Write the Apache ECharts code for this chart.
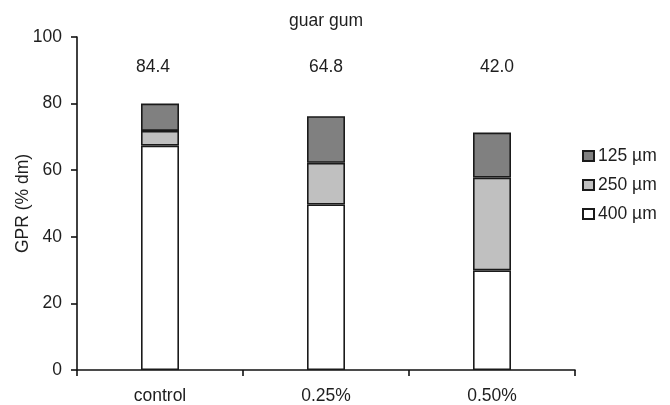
<!DOCTYPE html>
<html>
<head>
<meta charset="utf-8">
<script src="https://cdn.jsdelivr.net/npm/echarts@6/dist/echarts.min.js"></script>
<style>html,body{margin:0;padding:0;background:#fff}#c{width:670px;height:405px}</style>
</head>
<body>
<div id="c"></div>
<script>
var categories = ['control', '0.25%', '0.50%'];
var s400 = [67.4, 49.7, 29.9];
var s250 = [4.4, 12.5, 27.9];
var s125 = [8.2, 14.0, 13.5];
var topLabels = ['84.4', '64.8', '42.0'];
var yTicks = [0, 20, 40, 60, 80, 100];

// styling constants (not data)
var LABEL_Y = 91;
var LABEL_NUDGE = [-7, 0, 5];
var font = 'Liberation Sans, Arial, sans-serif';
var FS = 17.5;
var TXT = '#1e1e1e';
var border = { borderColor: '#1a1a1a', borderWidth: 1.6 };

function barSeries(name, data, color) {
  return {
    name: name, type: 'bar', stack: 'g', data: data, barWidth: 38,
    itemStyle: Object.assign({ color: color }, border),
    emphasis: { disabled: true }
  };
}

var chart = echarts.init(document.getElementById('c'), null, { renderer: 'canvas' });
chart.setOption({
  animation: false,
  backgroundColor: '#fff',
  title: {
    text: 'guar gum', left: 321, top: 7, textAlign: 'center',
    textStyle: { fontFamily: font, fontSize: FS, fontWeight: 'normal', color: TXT }
  },
  legend: {
    data: ['125 µm', '250 µm', '400 µm'],
    orient: 'vertical', left: 577, top: 142,
    icon: 'rect', itemWidth: 11, itemHeight: 10, itemGap: 11,
    textStyle: { fontFamily: font, fontSize: FS, color: TXT, padding: [0, 0, 0, -1] }
  },
  grid: { left: 77, right: 95, top: 37, bottom: 35 },
  xAxis: {
    type: 'category', data: categories, boundaryGap: true,
    axisLine: { lineStyle: { color: '#111', width: 1.6 } },
    axisTick: { show: true, length: 6, inside: false, alignWithLabel: false, lineStyle: { color: '#111', width: 1.6 } },
    axisLabel: { fontFamily: font, fontSize: FS, color: TXT, margin: 17 }
  },
  yAxis: {
    type: 'value', min: yTicks[0], max: yTicks[yTicks.length - 1], interval: 20,
    name: 'GPR (% dm)', nameLocation: 'middle', nameGap: 45, nameRotate: 90,
    nameMoveOverlap: false,
    nameTextStyle: { fontFamily: font, fontSize: FS, color: TXT },
    axisLine: { show: true, lineStyle: { color: '#111', width: 1.6 } },
    axisTick: { show: true, length: 6, lineStyle: { color: '#111', width: 1.6 } },
    splitLine: { show: false },
    axisLabel: { fontFamily: font, fontSize: FS, color: TXT, margin: 15 }
  },
  series: [
    barSeries('400 µm', s400, '#ffffff'),
    barSeries('250 µm', s250, '#c0c0c0'),
    barSeries('125 µm', s125, '#808080'),
    {
      name: 'totals', type: 'scatter', symbolSize: 0,
      itemStyle: { opacity: 1 },
      data: topLabels.map(function (t, i) {
        return { value: LABEL_Y, label: { offset: [LABEL_NUDGE[i], 0] } };
      }),
      label: {
        show: true, position: 'inside',
        formatter: function (p) { return topLabels[p.dataIndex]; },
        fontFamily: font, fontSize: FS, color: TXT
      },
      emphasis: { disabled: true }, silent: true
    }
  ]
});
</script>
</body>
</html>
